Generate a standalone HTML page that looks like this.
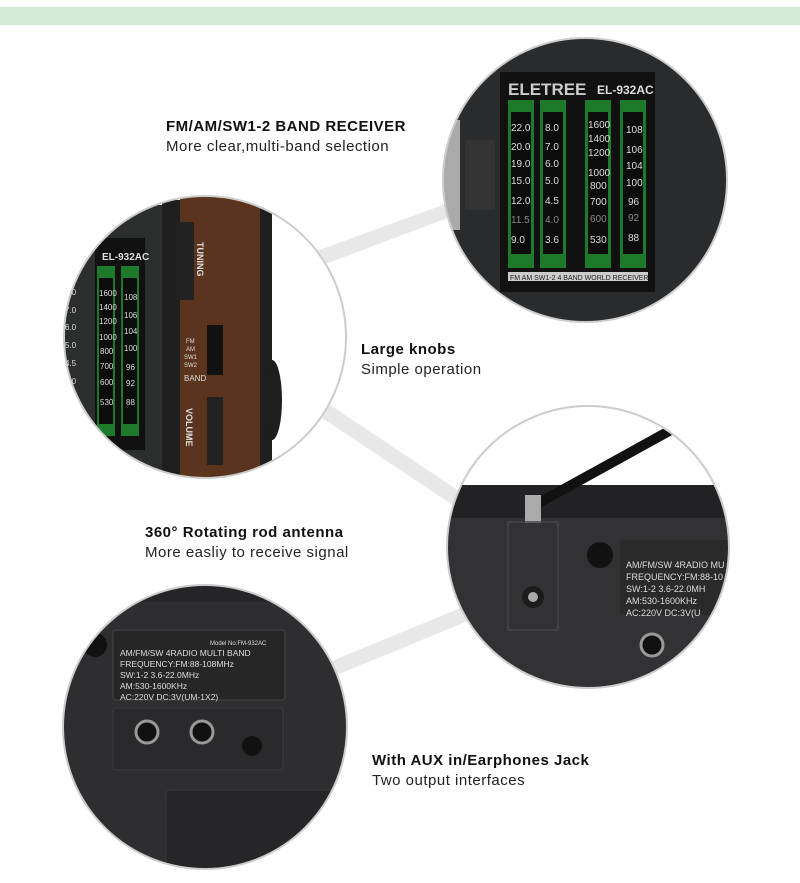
<!DOCTYPE html>
<html><head><meta charset="utf-8"><style>
body{margin:0;background:#fff;width:800px;height:883px;overflow:hidden;position:relative;font-family:"Liberation Sans",sans-serif}
.t{position:absolute;font-size:15px;color:#222;line-height:20px;letter-spacing:0.5px}
.t b{font-weight:bold;color:#111}
</style></head><body>
<svg width="800" height="883" style="position:absolute;left:0;top:0" font-family="Liberation Sans, sans-serif">
<defs>
<clipPath id="c1"><circle cx="585" cy="180" r="142"/></clipPath>
<clipPath id="c2"><circle cx="205" cy="337" r="141"/></clipPath>
<clipPath id="c3"><circle cx="588" cy="547" r="141"/></clipPath>
<clipPath id="c4"><circle cx="205" cy="727" r="142"/></clipPath>
</defs>
<rect x="0" y="7" width="800" height="18" fill="#d6ead8"/>
<!-- connectors -->
<polygon points="300,257 470,195 474,208 304,272" fill="#e8e8e8"/>
<polygon points="300,385 480,505 472,518 292,398" fill="#e8e8e8"/>
<polygon points="310,670 480,600 485,614 315,684" fill="#e8e8e8"/>
<!-- circle 1 -->
<g clip-path="url(#c1)">
<rect x="440" y="35" width="300" height="290" fill="#2a2b2d"/>
<rect x="430" y="120" width="30" height="110" fill="#aaa"/>
<rect x="465" y="140" width="30" height="70" fill="#333"/>
<rect x="500" y="72" width="155" height="220" fill="#111"/>
<text x="508" y="95" fill="#ccc" font-size="17" font-weight="bold">ELETREE</text>
<text x="597" y="94" fill="#ddd" font-size="12" font-weight="bold">EL-932AC</text>
<g fill="#1c7a2a"><rect x="508" y="100" width="26" height="168"/><rect x="540" y="100" width="26" height="168"/><rect x="585" y="100" width="26" height="168"/><rect x="620" y="100" width="26" height="168"/></g>
<g fill="#0c0c0c"><rect x="511" y="112" width="20" height="142"/><rect x="543" y="112" width="20" height="142"/><rect x="588" y="112" width="20" height="142"/><rect x="623" y="112" width="20" height="142"/></g>
<g fill="#ddd" font-size="10"><text x="511" y="131">22.0</text><text x="511" y="150">20.0</text><text x="511" y="167">19.0</text><text x="511" y="184">15.0</text><text x="511" y="204">12.0</text><text x="511" y="223" fill="#888">11.5</text><text x="511" y="243">9.0</text>
<text x="545" y="131">8.0</text><text x="545" y="150">7.0</text><text x="545" y="167">6.0</text><text x="545" y="184">5.0</text><text x="545" y="204">4.5</text><text x="545" y="223" fill="#888">4.0</text><text x="545" y="243">3.6</text>
<text x="588" y="128">1600</text><text x="588" y="142">1400</text><text x="588" y="156">1200</text><text x="588" y="176">1000</text><text x="590" y="189">800</text><text x="590" y="205">700</text><text x="590" y="222" fill="#888">600</text><text x="590" y="243">530</text>
<text x="626" y="133">108</text><text x="626" y="153">106</text><text x="626" y="169">104</text><text x="626" y="186">100</text><text x="628" y="205">96</text><text x="628" y="221" fill="#888">92</text><text x="628" y="241">88</text></g>
<rect x="508" y="272" width="140" height="9" fill="#ccc"/>
<text x="510" y="280" font-size="7" fill="#222">FM AM SW1-2 4 BAND WORLD RECEIVER</text>
</g>
<circle cx="585" cy="180" r="142" fill="none" stroke="#ccc" stroke-width="2"/>
<!-- circle 2 -->
<g clip-path="url(#c2)">
<rect x="60" y="190" width="300" height="300" fill="#fff"/>
<rect x="60" y="205" width="125" height="280" fill="#2b2e2c"/>
<rect x="95" y="238" width="50" height="212" fill="#111"/>
<text x="102" y="260" fill="#ddd" font-size="10" font-weight="bold">EL-932AC</text>
<rect x="97" y="266" width="18" height="170" fill="#1c7a2a"/><rect x="121" y="266" width="18" height="170" fill="#1c7a2a"/>
<rect x="99" y="278" width="14" height="146" fill="#0c0c0c"/><rect x="123" y="278" width="14" height="146" fill="#0c0c0c"/>
<rect x="162" y="200" width="18" height="290" fill="#1e1e1e"/>
<rect x="180" y="195" width="80" height="295" fill="#5a341c"/>
<rect x="176" y="222" width="18" height="78" fill="#222"/>
<rect x="207" y="397" width="16" height="68" fill="#222"/>
<rect x="207" y="325" width="16" height="50" fill="#111"/>
<rect x="260" y="200" width="12" height="290" fill="#1e1e1e"/>
<ellipse cx="272" cy="400" rx="10" ry="40" fill="#1e1e1e"/>
<text x="0" y="0" fill="#ddd" font-size="9" font-weight="bold" transform="translate(197,242) rotate(90)">TUNING</text>
<text x="0" y="0" fill="#ddd" font-size="9" font-weight="bold" transform="translate(186,408) rotate(90)">VOLUME</text>
<g fill="#ddd" font-size="6"><text x="186" y="343">FM</text><text x="186" y="351">AM</text><text x="184" y="359">SW1</text><text x="184" y="367">SW2</text><text x="184" y="381" font-size="8">BAND</text></g>
<g fill="#ddd" font-size="8"><text x="65" y="295">8.0</text><text x="65" y="313">7.0</text><text x="65" y="330">6.0</text><text x="65" y="348">5.0</text><text x="65" y="366">4.5</text><text x="65" y="384">4.0</text>
<text x="99" y="296">1600</text><text x="99" y="310">1400</text><text x="99" y="324">1200</text><text x="99" y="340">1000</text><text x="100" y="354">800</text><text x="100" y="369">700</text><text x="100" y="385">600</text><text x="100" y="405">530</text>
<text x="124" y="300">108</text><text x="124" y="318">106</text><text x="124" y="334">104</text><text x="124" y="351">100</text><text x="126" y="370">96</text><text x="126" y="386">92</text><text x="126" y="405">88</text></g>
</g>
<circle cx="205" cy="337" r="141" fill="none" stroke="#ccc" stroke-width="2"/>
<!-- circle 3 -->
<g clip-path="url(#c3)">
<rect x="440" y="400" width="320" height="300" fill="#fff"/>
<rect x="440" y="485" width="320" height="220" fill="#323234"/>
<rect x="440" y="485" width="320" height="33" fill="#222224"/>
<line x1="535" y1="505" x2="680" y2="425" stroke="#111" stroke-width="10"/>
<rect x="525" y="495" width="16" height="28" fill="#aaa"/>
<rect x="508" y="522" width="50" height="108" fill="none" stroke="#444" stroke-width="1.5"/>
<circle cx="533" cy="597" r="11" fill="#1c1c1c"/><circle cx="533" cy="597" r="5" fill="#aaa"/>
<circle cx="600" cy="555" r="13" fill="#111"/>
<rect x="620" y="540" width="150" height="75" rx="4" fill="#2a2a2a"/>
<g fill="#ddd" font-size="9"><text x="626" y="568">AM/FM/SW 4RADIO MU</text><text x="626" y="580">FREQUENCY:FM:88-10</text><text x="626" y="592">SW:1-2  3.6-22.0MH</text><text x="626" y="604">AM:530-1600KHz</text><text x="626" y="616">AC:220V  DC:3V(U</text></g>
<circle cx="652" cy="645" r="11" fill="#111" stroke="#999" stroke-width="3"/>
</g>
<circle cx="588" cy="547" r="141" fill="none" stroke="#ccc" stroke-width="2"/>
<!-- circle 4 -->
<g clip-path="url(#c4)">
<rect x="60" y="580" width="300" height="300" fill="#2e2e30"/>
<rect x="60" y="580" width="300" height="22" fill="#252527"/>
<circle cx="95" cy="645" r="12" fill="#111"/>
<rect x="113" y="630" width="172" height="70" rx="3" fill="#262626" stroke="#444"/>
<g fill="#ddd" font-size="8.5"><text x="210" y="645" font-size="6">Model No:FM-932AC</text><text x="120" y="656">AM/FM/SW 4RADIO MULTI BAND</text><text x="120" y="667">FREQUENCY:FM:88-108MHz</text><text x="120" y="678">SW:1-2  3.6-22.0MHz</text><text x="120" y="689">AM:530-1600KHz</text><text x="120" y="700">AC:220V  DC:3V(UM-1X2)</text></g>
<rect x="113" y="708" width="170" height="62" rx="3" fill="#2a2a2c" stroke="#3c3c3c"/>
<circle cx="147" cy="732" r="11" fill="#111" stroke="#999" stroke-width="3"/>
<circle cx="202" cy="732" r="11" fill="#111" stroke="#999" stroke-width="3"/>
<circle cx="252" cy="746" r="10" fill="#111"/>
<rect x="166" y="790" width="200" height="90" rx="4" fill="#262628" stroke="#3a3a3a"/>
</g>
<circle cx="205" cy="727" r="142" fill="none" stroke="#ccc" stroke-width="2"/>
</svg>
<div class="t" style="left:166px;top:117px"><b>FM/AM/SW1-2 BAND RECEIVER</b><br>More clear,multi-band selection</div>
<div class="t" style="left:361px;top:340px"><b>Large knobs</b><br>Simple operation</div>
<div class="t" style="left:145px;top:523px"><b>360° Rotating rod antenna</b><br>More easliy to receive signal</div>
<div class="t" style="left:372px;top:751px"><b>With AUX in/Earphones Jack</b><br>Two output interfaces</div>
</body></html>
